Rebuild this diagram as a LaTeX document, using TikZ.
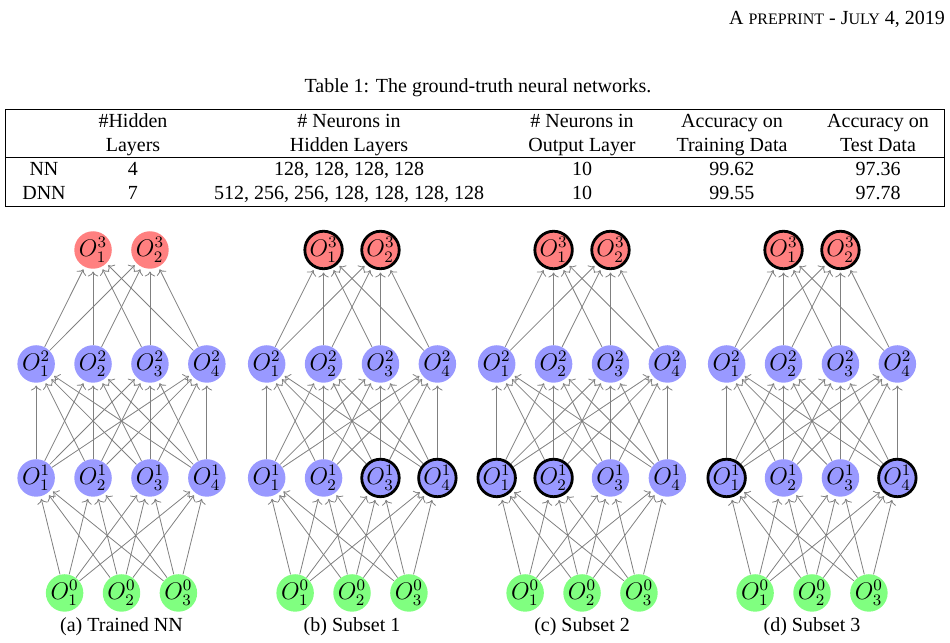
\documentclass[tikz,border=0pt]{standalone}
\usepackage[no-math]{fontspec}
\setmainfont{Liberation Serif}
\usepackage{tikz}
\usetikzlibrary{arrows.meta,positioning,calc}

\begin{document}
\begin{tikzpicture}[
  neuron/.style={circle, minimum size=5.8mm, inner sep=0pt, font=\large},
  inp/.style={neuron, fill=green!50},
  hid/.style={neuron, fill=blue!40},
  outp/.style={neuron, fill=red!50},
  sel/.code={\ifnum#1=1 \tikzset{draw=black, line width=1.4pt}\fi},
  syn/.style={->, gray, line width=0.4pt, shorten >=1.2pt},
  cell/.style={anchor=base, align=center, inner sep=0pt},
  rule/.style={line width=0.5pt}]
  \useasboundingbox (0,0) rectangle (16.694,11.299);

  % page head and table
  \node[anchor=base east, inner sep=0pt] (head) at (16.61,10.86)
     {A {\footnotesize PREPRINT} - J{\footnotesize ULY} 4, 2019};
  \node[anchor=base, inner sep=0pt] (tabcap) at (8.40,9.68)
     {Table 1: The ground-truth neural networks.};
  \draw[rule] (0.088,9.367) rectangle (16.606,7.662);
  \draw[line width=0.4pt] (0.088,8.541) -- (16.606,8.541);
  \foreach \x/\top/\r/\s in {
      0.773/{}/NN/DNN,
      2.337/{\#Hidden\\Layers}/4/7,
      6.133/{\# Neurons in\\Hidden Layers}/{128, 128, 128, 128}/{512, 256, 256, 128, 128, 128, 128},
      10.228/{\# Neurons in\\Output Layer}/10/10,
      12.863/{Accuracy on\\Training Data}/99.62/99.55,
      15.429/{Accuracy on\\Test Data}/97.36/97.78}{
    \node[cell] at (\x,8.628) {\top};
    \node[cell] at (\x,8.207) {\r};
    \node[cell] at (\x,7.802) {\s};
  }

  % the four networks
  \foreach \k/\cx/\txt/\ha/\hb/\hc/\hd/\ho in {
      a/2.135/Trained NN/0/0/0/0/0,
      b/6.186/Subset 1/0/0/1/1/1,
      c/10.228/Subset 2/1/1/0/0/1,
      d/14.269/Subset 3/1/0/0/1/1}{
    \foreach \i in {1,2,3}
      \node[inp] (\k-0-\i) at (\cx+\i-2,0.879) {$O^0_{\i}$};
    \foreach \i/\s in {1/\ha,2/\hb,3/\hc,4/\hd}
      \node[hid, sel=\s] (\k-1-\i) at (\cx+\i-2.5,2.900) {$O^1_{\i}$};
    \foreach \i in {1,...,4}
      \node[hid] (\k-2-\i) at (\cx+\i-2.5,4.903) {$O^2_{\i}$};
    \foreach \i in {1,2}
      \node[outp, sel=\ho] (\k-3-\i) at (\cx+\i-1.5,6.906) {$O^3_{\i}$};
    \foreach \i in {1,2,3}
      \foreach \j in {1,...,4}
        \draw[syn] (\k-0-\i) -- (\k-1-\j);
    \foreach \i in {1,...,4}
      \foreach \j in {1,...,4}
        \draw[syn] (\k-1-\i) -- (\k-2-\j);
    \foreach \i in {1,...,4}
      \foreach \j in {1,2}
        \draw[syn] (\k-2-\i) -- (\k-3-\j);
    \node (\k-cap) at (\cx,0.281) {(\k) \txt};
  }
\end{tikzpicture}
\end{document}
